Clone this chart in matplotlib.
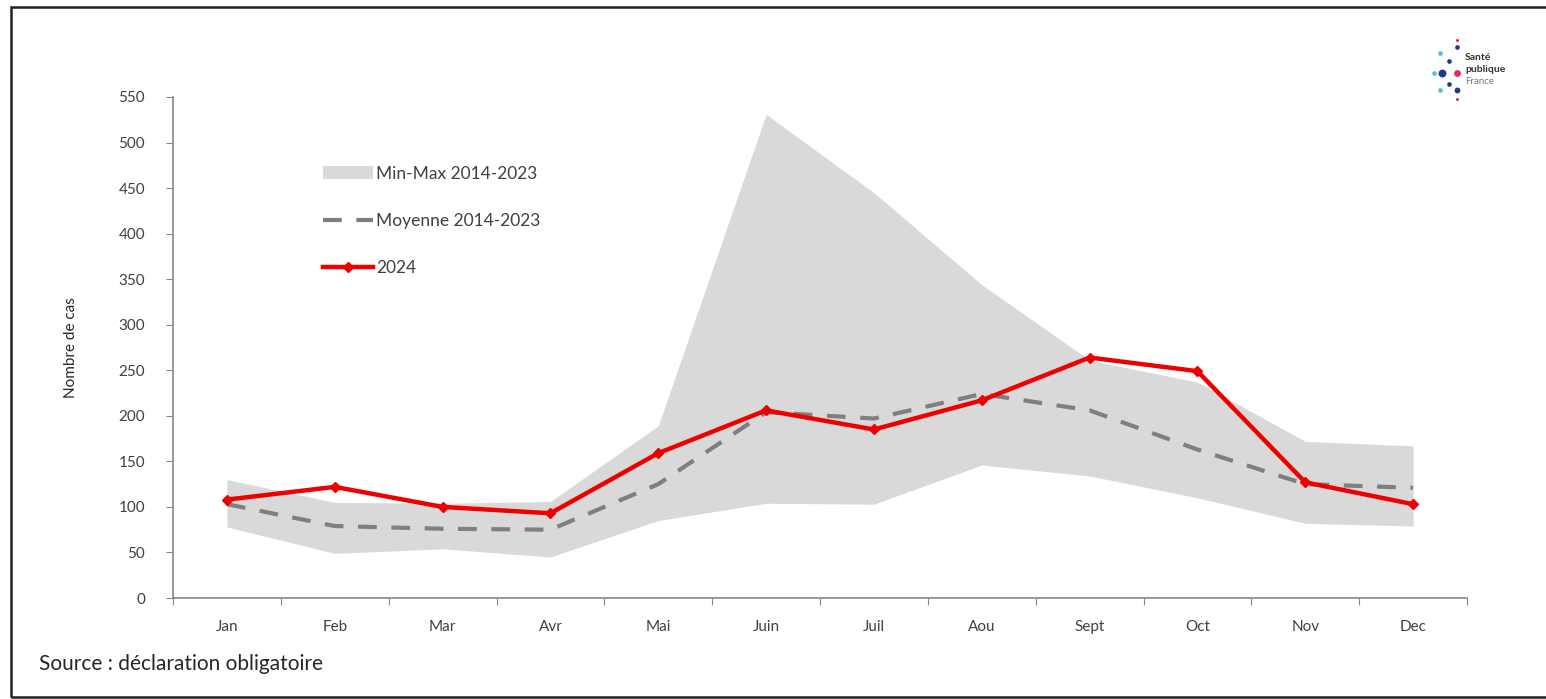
import numpy as np
import matplotlib
matplotlib.use("Agg")
import matplotlib.pyplot as plt
from matplotlib.patches import Rectangle, Patch
from matplotlib.lines import Line2D

# Données
mois = ['Jan', 'Feb', 'Mar', 'Avr', 'Mai', 'Juin', 'Juil', 'Aou', 'Sept', 'Oct', 'Nov', 'Dec']
cas_min = [78, 49, 54, 45, 85, 104, 103, 146, 134, 110, 82, 79]
cas_max = [130, 105, 104, 106, 189, 531, 445, 344, 261, 237, 172, 167]
moyenne = [103, 79, 76, 75, 125, 204, 197, 224, 206, 163, 125, 121]
cas_2024 = [108, 122, 100, 93, 159, 206, 185, 217, 264, 249, 127, 103]

plt.rcParams['font.family'] = ['Lato', 'DejaVu Sans']

fig = plt.figure(figsize=(15.46, 6.99), dpi=100)
ax = fig.add_axes([173 / 1546, 1 - 598 / 699, (1467 - 173) / 1546, (598 - 97) / 699])

x = np.arange(len(mois))
ax.fill_between(x, cas_min, cas_max, color='#d9d9d9', lw=0, zorder=1)
ax.plot(x, moyenne, color='#7f7f7f', lw=3, dashes=(4.5, 3.5), zorder=2)
ax.plot(x, cas_2024, color='#ee0000', lw=3.2, marker='D', ms=5, zorder=3)

ax.set_xlim(-0.5, len(mois) - 0.5)
ax.set_ylim(0, 550)
ax.set_yticks(range(0, 551, 50))

# graduations entre les mois, étiquettes au centre
ax.set_xticks(np.arange(-0.5, len(mois), 1.0))
ax.set_xticklabels([])
ax.set_xticks(x, minor=True)
ax.set_xticklabels(mois, minor=True)
ax.tick_params(axis='x', which='minor', length=0, pad=16, labelsize=11, labelcolor='#404040')
ax.tick_params(axis='x', which='major', length=5, color='#868686', direction='out')
ax.tick_params(axis='y', length=5, color='#868686', labelsize=11, labelcolor='#404040', pad=15)

for s in ['top', 'right']:
    ax.spines[s].set_visible(False)
for s in ['left', 'bottom']:
    ax.spines[s].set_color('#868686')
    ax.spines[s].set_linewidth(1.2)

ax.set_ylabel('Nombre de cas', fontsize=11, color='#262626', labelpad=29)

handles = [Patch(facecolor='#d9d9d9', edgecolor='none'),
           Line2D([], [], color='#7f7f7f', lw=3, dashes=(4.5, 3.5)),
           Line2D([], [], color='#ee0000', lw=3.2, marker='D', ms=5)]
labels = ['Min-Max 2014-2023', 'Moyenne 2014-2023', '2024']
ax.legend(handles, labels, loc='upper left', bbox_to_anchor=(307 / 1546, 1 - 150 / 699),
          bbox_transform=fig.transFigure, frameon=False, fontsize=12.5, handlelength=2.9,
          handletextpad=0.2, labelspacing=1.8, labelcolor='#404040')

fig.text(39 / 1546, 1 - 664 / 699, 'Source : déclaration obligatoire', fontsize=15,
         color='#262626', va='center')

# cadre de la figure
fig.add_artist(Rectangle((11 / 1546, 2 / 699), 1.2, 1 - 9 / 699, transform=fig.transFigure,
                         fill=False, edgecolor='#222222', lw=1.8))

# logo Santé publique France (approximation)
dots = [(1440, 53, '#4fc3d9', 14), (1449, 61, '#1f3a8a', 14), (1457, 47, '#1f3a8a', 14),
        (1434, 73, '#4fc3d9', 14), (1442, 73, '#1f3a8a', 40), (1457, 73, '#e8245e', 30),
        (1449, 84, '#1f3a8a', 14), (1440, 90, '#4fc3d9', 14), (1457, 90, '#1f3a8a', 22),
        (1457, 99, '#e8245e', 6), (1457, 40, '#e8245e', 6)]
for px, py, c, s in dots:
    fig.add_artist(Line2D([px / 1546], [1 - py / 699], marker='o', ms=np.sqrt(s) * 0.9,
                          color=c, mec='none', transform=fig.transFigure))
fig.text(1465 / 1546, 1 - 58 / 699, 'Santé', fontsize=7.5, fontweight='bold', color='#333333', va='center')
fig.text(1465 / 1546, 1 - 70 / 699, 'publique', fontsize=7.5, fontweight='bold', color='#333333', va='center')
fig.text(1465 / 1546, 1 - 82 / 699, 'France', fontsize=7, color='#777777', va='center')

fig.savefig('out.png', dpi=100, facecolor='white')
